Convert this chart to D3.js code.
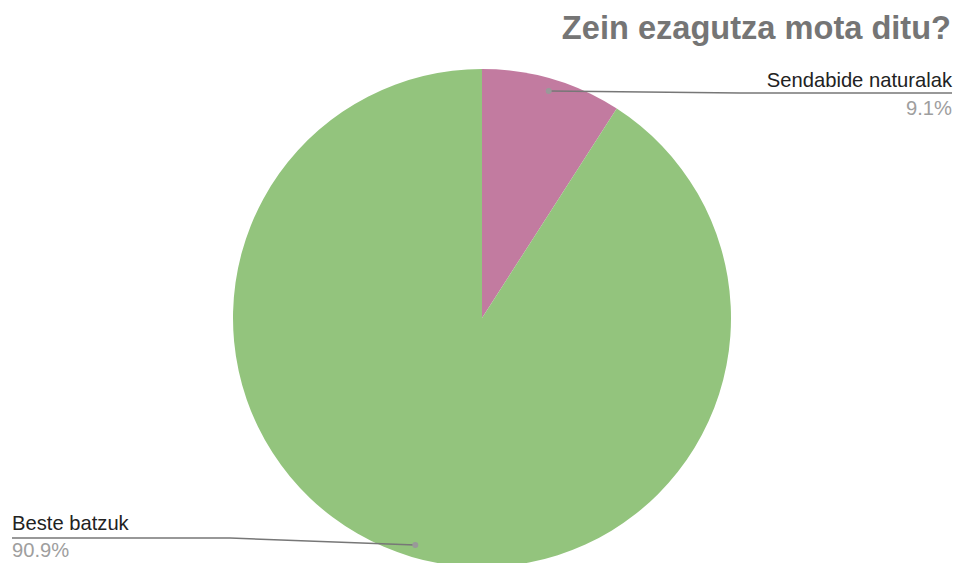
<!DOCTYPE html>
<html><head><meta charset="utf-8">
<script src="https://cdn.jsdelivr.net/npm/d3@7"></script>
<style>body{margin:0;background:#fff}svg{display:block;font-family:"Liberation Sans",Arial,sans-serif}</style>
</head><body>
<svg id="c" width="959" height="563"></svg>
<script>
const title = "Zein ezagutza mota ditu?";
const categories = ["Sendabide naturalak", "Beste batzuk"];
const values = [9.1, 90.9];
const colors = ["#c27ba0", "#93c47d"];

const svg = d3.select("#c");
const cx = 482, cy = 318, r = 249;

const pie = d3.pie().sort(null).value(d => d)(values);
const arc = d3.arc().innerRadius(0).outerRadius(r);
const g = svg.append("g").attr("transform", `translate(${cx},${cy})`);
g.selectAll("path").data(pie).join("path")
  .attr("d", arc).attr("fill", (d, i) => colors[i]);

svg.append("text").attr("x", 951).attr("y", 39).attr("text-anchor", "end")
  .attr("font-size", 32.6).attr("font-weight", "bold").attr("fill", "#757575").text(title);

const dotArc = d3.arc().innerRadius(r * 0.95).outerRadius(r * 0.95);
const fmt = v => v.toFixed(1) + "%";
const layout = [
  {side: "right", lineY: 93, bendX: 740, edgeX: 952, textX: 952, nameY: 87, pctY: 115},
  {side: "left", lineY: 538, bendX: 230, edgeX: 12, textX: 12, nameY: 530, pctY: 557}
];
pie.forEach((d, i) => {
  const [px, py] = dotArc.centroid(d);
  const L = layout[i];
  const x0 = cx + px, y0 = cy + py;
  svg.append("path")
    .attr("d", `M${x0},${y0}L${L.bendX},${L.lineY}L${L.edgeX},${L.lineY}`)
    .attr("fill", "none").attr("stroke", "#777").attr("stroke-width", 1.5);
  svg.append("circle").attr("cx", x0).attr("cy", y0).attr("r", 3).attr("fill", "#999");
  const anchor = L.side === "right" ? "end" : "start";
  svg.append("text").attr("x", L.textX).attr("y", L.nameY).attr("text-anchor", anchor)
    .attr("font-size", 20.2).attr("fill", "#222").text(categories[i]);
  svg.append("text").attr("x", L.textX).attr("y", L.pctY).attr("text-anchor", anchor)
    .attr("font-size", 20.2).attr("fill", "#9e9e9e").text(fmt(values[i]));
});
</script>
</body></html>
